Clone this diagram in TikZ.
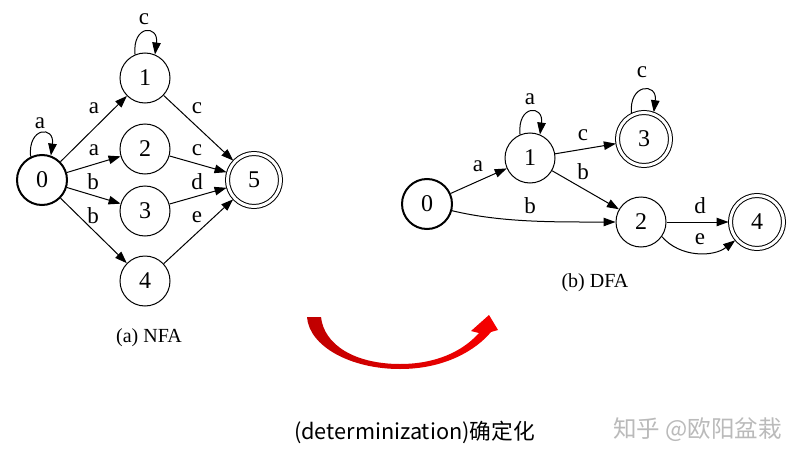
\documentclass[tikz,border=0pt]{standalone}
\usepackage{fontspec}
\setmainfont{Liberation Serif}
\newfontfamily\cjk{Noto Sans CJK SC}
\usetikzlibrary{arrows.meta,calc}
\tikzset{
  st/.style={circle,draw,line width=1pt,minimum size=50pt,inner sep=0pt,font=\fontsize{24}{24}\selectfont},
  ini/.style={st,line width=2pt},
  acc/.style={st,minimum size=53pt,double,double distance=3pt,line width=1pt,outer sep=2pt},
  ed/.style={line width=1pt,-{Triangle[length=12pt,width=8.5pt]}},
  lab/.style={font=\fontsize{23}{23}\selectfont,inner sep=0pt},
  captext/.style={font=\fontsize{20}{20}\selectfont,inner sep=0pt}
}
\begin{document}
\begin{tikzpicture}[x=1pt,y=-1pt]
\useasboundingbox (0,0) rectangle (805,460);
\fill[white] (0,0) rectangle (805,460);
% ---------- NFA ----------
\node[ini] (a0) at (42,180) {0};
\node[st] (a1) at (145,78) {1};
\node[st] (a2) at (145,149) {2};
\node[st] (a3) at (145,211) {3};
\node[st] (a4) at (145,281) {4};
\node[acc] (a5) at (254,180) {5};
\draw[ed] (a0.116) .. controls +(-3,-30) and +(4,-30) .. (a0.70);
\draw[ed] (a1.113) .. controls +(-3,-30) and +(4,-30) .. (a1.67);
\draw[ed] (a0) -- (a1);
\draw[ed] (a0) -- (a2);
\draw[ed] (a0) -- (a3);
\draw[ed] (a0) -- (a4);
\draw[ed] (a1) -- (a5);
\draw[ed] (a2) -- (a5);
\draw[ed] (a3) -- (a5);
\draw[ed] (a4) -- (a5);
\node[lab] (la0) at (40,123) {a};
\node[lab] (lc1) at (144,19) {c};
\node[lab] (l01) at (94,108) {a};
\node[lab] (l02) at (94,150) {a};
\node[lab] (l03) at (93,182) {b};
\node[lab] (l04) at (93,216) {b};
\node[lab] (l15) at (197,108) {c};
\node[lab] (l25) at (197,150) {c};
\node[lab] (l35) at (197,182) {d};
\node[lab] (l45) at (197,217) {e};
\node[captext] (capa) at (149,338) {(a) NFA};
% ---------- DFA ----------
\node[ini] (d0) at (427,204) {0};
\node[st] (d1) at (530,158) {1};
\node[acc] (d3) at (644,139) {3};
\node[st] (d2) at (641,222) {2};
\node[acc] (d4) at (757,222) {4};
\draw[ed] (d1.113) .. controls +(-3,-30) and +(4,-30) .. (d1.67);
\draw[ed] (d3.116) .. controls +(-3,-30) and +(4,-30) .. (d3.70);
\draw[ed] (d0) -- (d1);
\draw[ed] (d1) -- (d3);
\draw[ed] (d1) -- (d2);
\draw[ed] (d0.-15) .. controls ($(d0.-15)+(50,12)$) and ($(d2.west)+(-60,0)$) .. (d2.west);
\draw[ed] (d2) -- (d4);
\draw[ed] (d2.-35) .. controls ($(d2.-35)+(18,21)$) and ($(d4.-140)+(-22,17)$) .. (d4.-140);
\node[lab] (ld1) at (530,99) {a};
\node[lab] (ld3) at (642,72) {c};
\node[lab] (l0d1) at (478,166) {a};
\node[lab] (l1d3) at (583,135) {c};
\node[lab] (l1d2) at (583,172) {b};
\node[lab] (l0d2) at (530,206) {b};
\node[lab] (l2d4) at (700,206) {d};
\node[lab] (l2d4e) at (700,239) {e};
\node[captext] (capb) at (595,283) {(b) DFA};
% ---------- red arrow ----------
\shade[left color=red!75!black,right color=red!97!black]
  (307,317) .. controls (309,346) and (350,369) .. (400,369)
  .. controls (445,369) and (476,350) .. (491,332)
  -- (498,330) -- (489,315) -- (471,331) -- (479,333)
  .. controls (462,352) and (435,364) .. (400,364)
  .. controls (355,364) and (324,345) .. (321,317) -- cycle;
% ---------- texts ----------
\node[font=\cjk\fontsize{21.7}{22}\selectfont,inner sep=0pt,anchor=west] (tdet) at (294,432) {(determinization)确定化};
\node[font=\cjk\fontsize{23.5}{24}\selectfont,inner sep=0pt,anchor=west,text=black!27] (twm) at (613,430) {知乎\ @欧阳盆栽};
\end{tikzpicture}
\end{document}
